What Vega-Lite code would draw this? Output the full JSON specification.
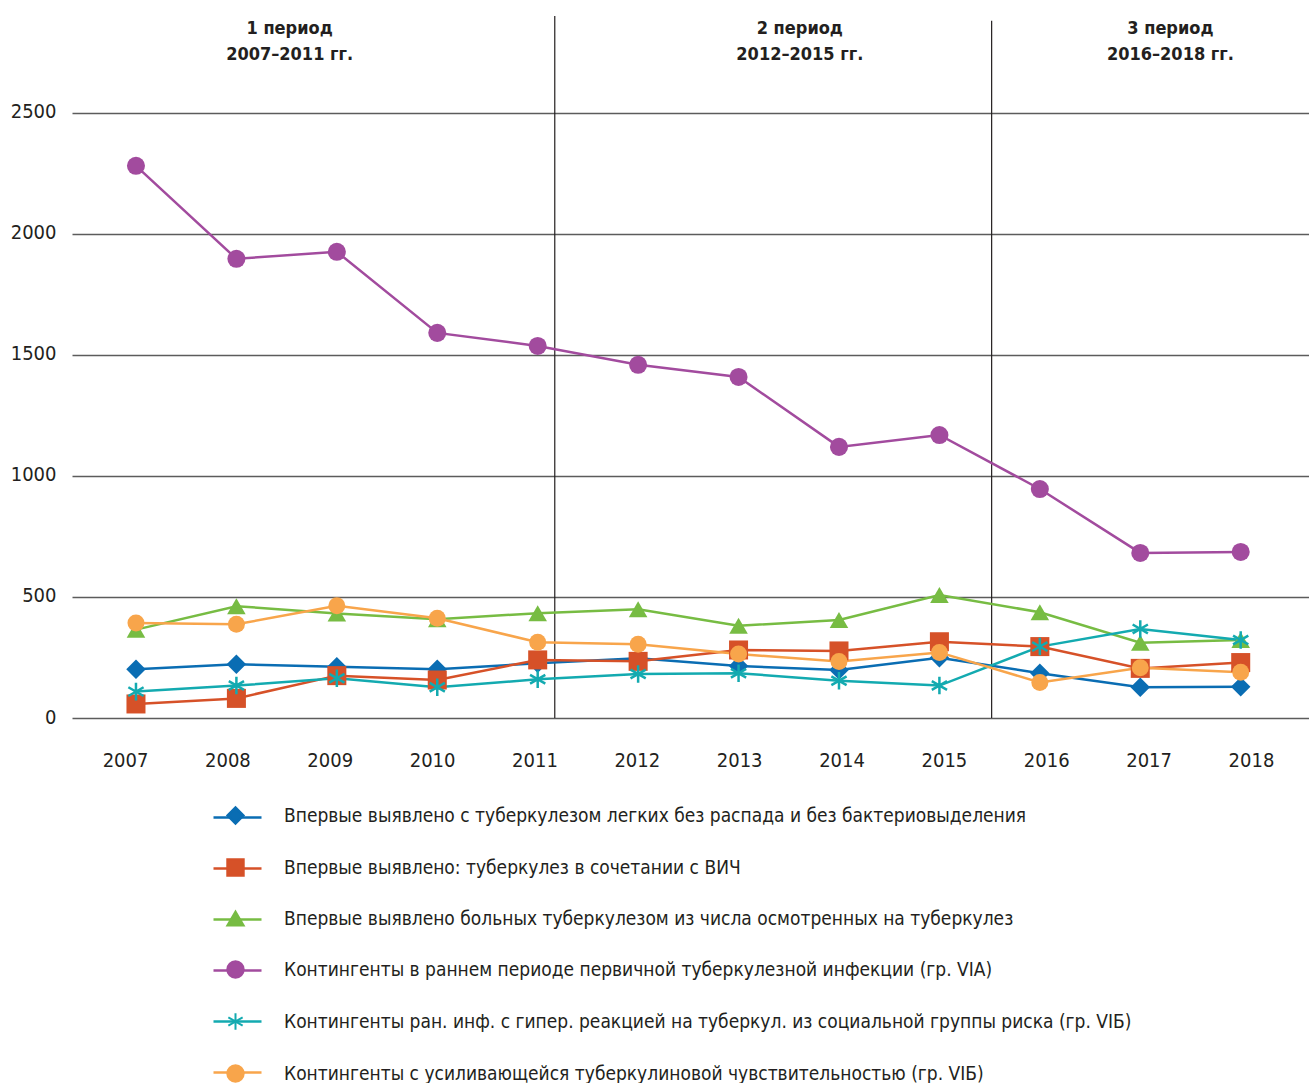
{
  "$schema": "https://vega.github.io/schema/vega-lite/v6.json",
  "width": 1237,
  "height": 702,
  "autosize": {"type": "none"},
  "padding": {"left": 72, "top": 16, "right": 0, "bottom": 365},
  "background": "white",
  "config": {
    "view": {"stroke": null},
    "font": "DejaVu Sans Condensed, Roboto, sans-serif"
  },
  "resolve": {"scale": {"x": "independent"}, "axis": {"x": "independent"}},
  "datasets": {
    "names": [
      {"k": "A", "series": "Впервые выявлено с туберкулезом легких без распада и без бактериовыделения"},
      {"k": "B", "series": "Впервые выявлено: туберкулез в сочетании с ВИЧ"},
      {"k": "C", "series": "Впервые выявлено больных туберкулезом из числа осмотренных на туберкулез"},
      {"k": "D", "series": "Контингенты в раннем периоде первичной туберкулезной инфекции (гр. VIA)"},
      {"k": "E", "series": "Контингенты ран. инф. с гипер. реакцией на туберкул. из социальной группы риска (гр. VIБ)"},
      {"k": "F", "series": "Контингенты с усиливающейся туберкулиновой чувствительностью (гр. VIБ)"}
    ],
    "main": [
      {"k": "A", "year": 2007, "v": 201}, {"k": "A", "year": 2008, "v": 222}, {"k": "A", "year": 2009, "v": 212},
      {"k": "A", "year": 2010, "v": 201}, {"k": "A", "year": 2011, "v": 226}, {"k": "A", "year": 2012, "v": 247},
      {"k": "A", "year": 2013, "v": 215}, {"k": "A", "year": 2014, "v": 198}, {"k": "A", "year": 2015, "v": 249},
      {"k": "A", "year": 2016, "v": 185}, {"k": "A", "year": 2017, "v": 127}, {"k": "A", "year": 2018, "v": 129},
      {"k": "B", "year": 2007, "v": 58}, {"k": "B", "year": 2008, "v": 81}, {"k": "B", "year": 2009, "v": 175},
      {"k": "B", "year": 2010, "v": 157}, {"k": "B", "year": 2011, "v": 240}, {"k": "B", "year": 2012, "v": 234},
      {"k": "B", "year": 2013, "v": 281}, {"k": "B", "year": 2014, "v": 277}, {"k": "B", "year": 2015, "v": 315},
      {"k": "B", "year": 2016, "v": 295}, {"k": "B", "year": 2017, "v": 205}, {"k": "B", "year": 2018, "v": 229},
      {"k": "C", "year": 2007, "v": 365}, {"k": "C", "year": 2008, "v": 462}, {"k": "C", "year": 2009, "v": 432},
      {"k": "C", "year": 2010, "v": 408}, {"k": "C", "year": 2011, "v": 433}, {"k": "C", "year": 2012, "v": 449},
      {"k": "C", "year": 2013, "v": 381}, {"k": "C", "year": 2014, "v": 405}, {"k": "C", "year": 2015, "v": 508},
      {"k": "C", "year": 2016, "v": 437}, {"k": "C", "year": 2017, "v": 311}, {"k": "C", "year": 2018, "v": 322},
      {"k": "D", "year": 2007, "v": 2281}, {"k": "D", "year": 2008, "v": 1897}, {"k": "D", "year": 2009, "v": 1926},
      {"k": "D", "year": 2010, "v": 1591}, {"k": "D", "year": 2011, "v": 1537}, {"k": "D", "year": 2012, "v": 1459},
      {"k": "D", "year": 2013, "v": 1409}, {"k": "D", "year": 2014, "v": 1120}, {"k": "D", "year": 2015, "v": 1169},
      {"k": "D", "year": 2016, "v": 946}, {"k": "D", "year": 2017, "v": 682}, {"k": "D", "year": 2018, "v": 686},
      {"k": "E", "year": 2007, "v": 109}, {"k": "E", "year": 2008, "v": 134}, {"k": "E", "year": 2009, "v": 164},
      {"k": "E", "year": 2010, "v": 127}, {"k": "E", "year": 2011, "v": 160}, {"k": "E", "year": 2012, "v": 182},
      {"k": "E", "year": 2013, "v": 185}, {"k": "E", "year": 2014, "v": 154}, {"k": "E", "year": 2015, "v": 134},
      {"k": "E", "year": 2016, "v": 295}, {"k": "E", "year": 2017, "v": 368}, {"k": "E", "year": 2018, "v": 322},
      {"k": "F", "year": 2007, "v": 392}, {"k": "F", "year": 2008, "v": 387}, {"k": "F", "year": 2009, "v": 464},
      {"k": "F", "year": 2010, "v": 412}, {"k": "F", "year": 2011, "v": 313}, {"k": "F", "year": 2012, "v": 305},
      {"k": "F", "year": 2013, "v": 264}, {"k": "F", "year": 2014, "v": 233}, {"k": "F", "year": 2015, "v": 271},
      {"k": "F", "year": 2016, "v": 147}, {"k": "F", "year": 2017, "v": 208}, {"k": "F", "year": 2018, "v": 189}
    ],
    "years": [
      {"year": 2007}, {"year": 2008}, {"year": 2009}, {"year": 2010}, {"year": 2011}, {"year": 2012},
      {"year": 2013}, {"year": 2014}, {"year": 2015}, {"year": 2016}, {"year": 2017}, {"year": 2018}
    ],
    "dividers": [
      {"year": 2011.17, "v": 0, "v2": 2900},
      {"year": 2015.52, "v": 0, "v2": 2880}
    ],
    "periods": [
      {"year": 2008.53, "v": 2847, "label": "1 период\n2007–2011 гг."},
      {"year": 2013.61, "v": 2847, "label": "2 период\n2012–2015 гг."},
      {"year": 2017.30, "v": 2847, "label": "3 период\n2016–2018 гг."}
    ]
  },
  "layer": [
    {
      "data": {"name": "dividers"},
      "mark": {"type": "rule", "color": "#231f20", "strokeWidth": 1.2},
      "encoding": {
        "x": {
          "field": "year", "type": "quantitative",
          "scale": {"domain": [2006.363, 2018.68], "nice": false, "zero": false},
          "axis": null
        },
        "y": {
          "field": "v", "type": "quantitative",
          "scale": {"domain": [0, 2900], "nice": false, "zero": true},
          "axis": {
            "values": [0, 500, 1000, 1500, 2000, 2500], "format": "d",
            "title": null, "domain": false, "ticks": false, "grid": true,
            "gridColor": "#5c5c5c", "gridWidth": 1.5,
            "labelFontSize": 20, "labelColor": "#231f20", "labelPadding": 16,
            "labelBaseline": "middle", "labelOffset": -1
          }
        },
        "y2": {"field": "v2"}
      }
    },
    {
      "data": {"name": "years"},
      "mark": {"type": "point", "opacity": 0},
      "encoding": {
        "x": {
          "field": "year", "type": "quantitative",
          "scale": {"domain": [2006.482, 2018.567], "nice": false, "zero": false},
          "axis": {
            "values": [2007, 2008, 2009, 2010, 2011, 2012, 2013, 2014, 2015, 2016, 2017, 2018],
            "format": "d", "title": null, "domain": false, "ticks": false, "grid": false,
            "labelFontSize": 20, "labelColor": "#231f20", "labelPadding": 32, "orient": "bottom"
          }
        },
        "y": {"datum": 0, "type": "quantitative"}
      }
    },
    {
      "data": {"name": "main"},
      "transform": [{"lookup": "k", "from": {"data": {"name": "names"}, "key": "k", "fields": ["series"]}}],
      "mark": {"type": "line", "strokeWidth": 2.5},
      "encoding": {
        "x": {
          "field": "year", "type": "quantitative",
          "scale": {"domain": [2006.363, 2018.68], "nice": false, "zero": false},
          "axis": null
        },
        "y": {"field": "v", "type": "quantitative"},
        "color": {
          "field": "series", "type": "nominal",
          "sort": [
            "Впервые выявлено с туберкулезом легких без распада и без бактериовыделения",
            "Впервые выявлено: туберкулез в сочетании с ВИЧ",
            "Впервые выявлено больных туберкулезом из числа осмотренных на туберкулез",
            "Контингенты в раннем периоде первичной туберкулезной инфекции (гр. VIA)",
            "Контингенты ран. инф. с гипер. реакцией на туберкул. из социальной группы риска (гр. VIБ)",
            "Контингенты с усиливающейся туберкулиновой чувствительностью (гр. VIБ)"
          ],
          "scale": {"range": ["#0a6db3", "#d65128", "#77bc43", "#a24b9e", "#13aab0", "#f8a54b"]},
          "legend": {
            "orient": "none", "legendX": 140, "legendY": 776, "direction": "vertical",
            "title": null, "symbolType": "stroke", "symbolSize": 2304, "symbolStrokeWidth": 2.5,
            "labelFontSize": 19, "labelExpr": "''",
            "labelOffset": 25, "rowPadding": 15, "labelLimit": 1000, "padding": 0
          }
        }
      }
    },
    {
      "data": {"name": "main"},
      "transform": [{"lookup": "k", "from": {"data": {"name": "names"}, "key": "k", "fields": ["series"]}}],
      "mark": {"type": "point", "filled": true, "opacity": 1},
      "encoding": {
        "x": {
          "field": "year", "type": "quantitative",
          "scale": {"domain": [2006.363, 2018.68], "nice": false, "zero": false},
          "axis": null
        },
        "y": {"field": "v", "type": "quantitative"},
        "fill": {
          "field": "series", "type": "nominal",
          "scale": {
            "domain": [
              "Впервые выявлено с туберкулезом легких без распада и без бактериовыделения",
              "Впервые выявлено: туберкулез в сочетании с ВИЧ",
              "Впервые выявлено больных туберкулезом из числа осмотренных на туберкулез",
              "Контингенты в раннем периоде первичной туберкулезной инфекции (гр. VIA)",
              "Контингенты ран. инф. с гипер. реакцией на туберкул. из социальной группы риска (гр. VIБ)",
              "Контингенты с усиливающейся туберкулиновой чувствительностью (гр. VIБ)"
            ],
            "range": ["#0a6db3", "#d65128", "#77bc43", "#a24b9e", "#13aab0", "#f8a54b"]
          },
          "legend": {
            "orient": "none", "legendX": 154, "legendY": 790, "direction": "vertical",
            "title": null, "symbolSize": 270, "symbolStrokeWidth": 2, "symbolOpacity": 1,
            "labelFontSize": 19, "labelColor": "#231f20",
            "labelOffset": 39, "rowPadding": 27, "labelLimit": 1000, "padding": 0
          }
        },
        "stroke": {
          "field": "series", "type": "nominal",
          "scale": {
            "domain": [
              "Впервые выявлено с туберкулезом легких без распада и без бактериовыделения",
              "Впервые выявлено: туберкулез в сочетании с ВИЧ",
              "Впервые выявлено больных туберкулезом из числа осмотренных на туберкулез",
              "Контингенты в раннем периоде первичной туберкулезной инфекции (гр. VIA)",
              "Контингенты ран. инф. с гипер. реакцией на туберкул. из социальной группы риска (гр. VIБ)",
              "Контингенты с усиливающейся туберкулиновой чувствительностью (гр. VIБ)"
            ],
            "range": ["#0a6db3", "#d65128", "#77bc43", "#a24b9e", "#13aab0", "#f8a54b"]
          }
        },
        "shape": {
          "field": "series", "type": "nominal",
          "scale": {
            "domain": [
              "Впервые выявлено с туберкулезом легких без распада и без бактериовыделения",
              "Впервые выявлено: туберкулез в сочетании с ВИЧ",
              "Впервые выявлено больных туберкулезом из числа осмотренных на туберкулез",
              "Контингенты в раннем периоде первичной туберкулезной инфекции (гр. VIA)",
              "Контингенты ран. инф. с гипер. реакцией на туберкул. из социальной группы риска (гр. VIБ)",
              "Контингенты с усиливающейся туберкулиновой чувствительностью (гр. VIБ)"
            ],
            "range": ["diamond", "square", "triangle-up", "circle", "M0,-1L0,1M-0.87,-0.5L0.87,0.5M-0.87,0.5L0.87,-0.5", "circle"]
          }
        },
        "size": {
          "field": "series", "type": "nominal",
          "sort": [
            "Впервые выявлено с туберкулезом легких без распада и без бактериовыделения",
            "Впервые выявлено: туберкулез в сочетании с ВИЧ",
            "Впервые выявлено больных туберкулезом из числа осмотренных на туберкулез",
            "Контингенты в раннем периоде первичной туберкулезной инфекции (гр. VIA)",
            "Контингенты ран. инф. с гипер. реакцией на туберкул. из социальной группы риска (гр. VIБ)",
            "Контингенты с усиливающейся туберкулиновой чувствительностью (гр. VIБ)"
          ],
          "scale": {"range": [380, 289, 320, 200, 256, 200]},
          "legend": null
        },
        "strokeWidth": {"condition": {"test": "datum.k === 'E'", "value": 2.5}, "value": 0}
      }
    },
    {
      "data": {"name": "periods"},
      "mark": {"type": "text", "fontSize": 18, "fontWeight": "bold", "color": "#231f20", "lineBreak": "\n", "lineHeight": 26, "align": "center", "baseline": "middle"},
      "encoding": {
        "x": {
          "field": "year", "type": "quantitative",
          "scale": {"domain": [2006.363, 2018.68], "nice": false, "zero": false},
          "axis": null
        },
        "y": {"field": "v", "type": "quantitative"},
        "text": {"field": "label"}
      }
    }
  ]
}
